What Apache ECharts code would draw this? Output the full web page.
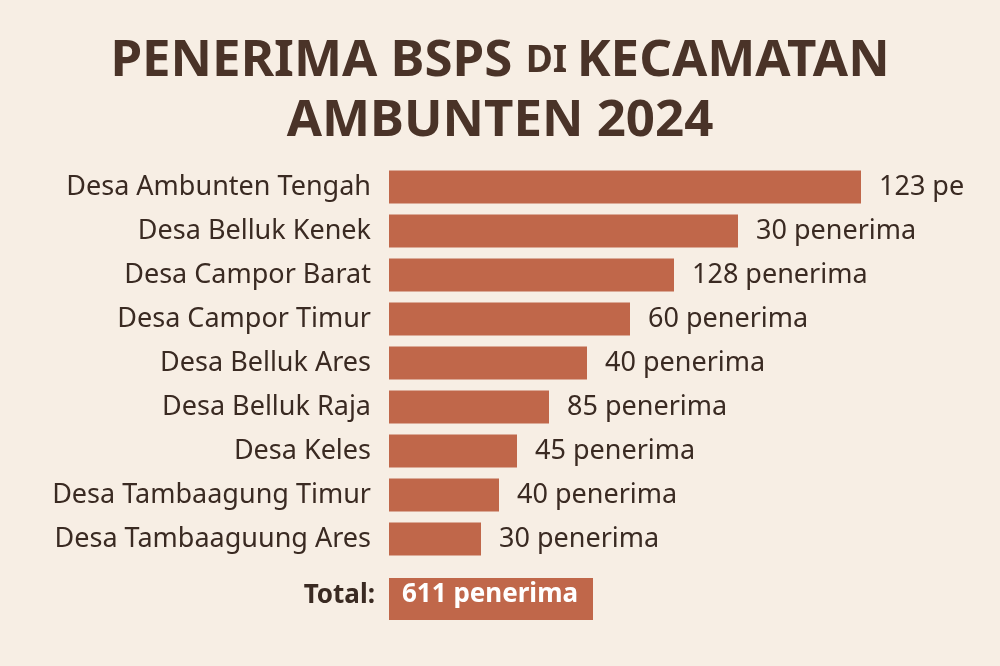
<!DOCTYPE html>
<html><head><meta charset="utf-8">
<script src="https://cdn.jsdelivr.net/npm/echarts@6/dist/echarts.min.js"></script>
<style>html,body{margin:0;background:#f7eee4}#c{width:1000px;height:666px}</style>
</head><body><div id="c"></div>
<script>
const categories = ["Desa Ambunten Tengah","Desa Belluk Kenek","Desa Campor Barat","Desa Campor Timur","Desa Belluk Ares","Desa Belluk Raja","Desa Keles","Desa Tambaagung Timur","Desa Tambaaguung Ares"];
const barLengths = [472,349,285,241,198,160,128,110,92];
const valueLabels = ["123 pe","30 penerima","128 penerima","60 penerima","40 penerima","85 penerima","45 penerima","40 penerima","30 penerima"];
const totalLabel = "611 penerima";
const chart = echarts.init(document.getElementById('c'));
const font = '"Noto Sans", "Open Sans", sans-serif';
chart.setOption({
  backgroundColor:'#f7eee4',
  title:{
    text:'{a|PENERIMA BSPS }{b|DI }{a|KECAMATAN}\n{a|AMBUNTEN 2024}',
    left:'center', top:26,
    textStyle:{rich:{
      a:{fontFamily:font,fontWeight:'bold',fontSize:51,color:'#4a3328',lineHeight:60},
      b:{fontFamily:font,fontWeight:'bold',fontSize:37,color:'#4a3328',lineHeight:60}
    }}
  },
  grid:{left:389,top:165,height:396,right:11},
  xAxis:{type:'value',min:0,max:600,show:false},
  yAxis:{type:'category',data:categories,inverse:true,
    axisLine:{show:false},axisTick:{show:false},
    axisLabel:{fontFamily:font,fontSize:27,color:'#3a2a22',margin:18,padding:[4,0,0,0]}},
  series:[{type:'bar',data:barLengths,barWidth:33,
    itemStyle:{color:'#c0674a'},
    label:{show:true,position:'right',distance:18,fontFamily:font,fontSize:27,color:'#3a2a22',padding:[4,0,0,0],
      formatter:p=>valueLabels[p.dataIndex]}}],
  graphic:[
    {type:'text',right:625,top:583,style:{text:'Total:',font:'bold 26px '+font,fill:'#3a2a22'}},
    {type:'rect',shape:{x:389,y:578,width:204,height:42},style:{fill:'#c0674a'}},
    {type:'text',left:402,top:582,style:{text:totalLabel,font:'bold 26px '+font,fill:'#ffffff'}}
  ]
});
</script></body></html>
